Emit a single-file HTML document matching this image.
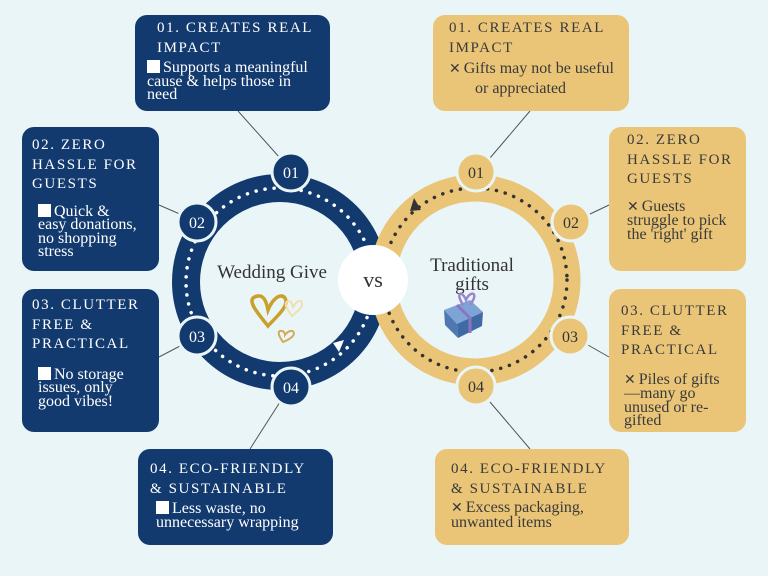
<!DOCTYPE html>
<html><head><meta charset="utf-8"><style>
body{margin:0;width:768px;height:576px;background:#eaf5f7;position:relative;overflow:hidden;font-family:"Liberation Serif",serif}
.b{position:absolute;border-radius:12px;box-sizing:border-box;white-space:nowrap}
.n{background:#123a6f;color:#fff}
.g{background:#eac577;color:#3a3a3a}
.t{font-size:15px;letter-spacing:1.6px;line-height:19.5px}
.d{font-size:16px;letter-spacing:0;line-height:13.5px;margin-top:2px}
.sq{display:inline-block;width:13px;height:13px;background:#fff;vertical-align:-1px;margin-right:3px}
.x{font-family:"DejaVu Sans",sans-serif;font-size:14px;margin-right:3px}
svg{position:absolute;left:0;top:0}
</style></head><body>
<svg width="768" height="576">
<g stroke="#555" stroke-width="1">
<line x1="238" y1="111" x2="280" y2="158"/>
<line x1="159" y1="205" x2="182" y2="215"/>
<line x1="159" y1="357" x2="182" y2="345"/>
<line x1="280" y1="402" x2="250" y2="449"/>
<line x1="530" y1="111" x2="490" y2="158"/>
<line x1="609" y1="205" x2="588" y2="215"/>
<line x1="609" y1="357" x2="588" y2="345"/>
<line x1="490" y1="402" x2="530" y2="449"/>
</g>
<circle cx="280" cy="282" r="94" fill="none" stroke="#123a6f" stroke-width="28"/>
<circle cx="280" cy="282" r="94" fill="none" stroke="#fff" stroke-width="3.5" stroke-dasharray="0.1 9" stroke-linecap="round"/>
<polygon points="333,343 344,340 339,352" fill="#fff"/>
<circle cx="475" cy="280" r="92" fill="none" stroke="#eac577" stroke-width="27"/>
<circle cx="475" cy="280" r="92" fill="none" stroke="#333" stroke-width="3.5" stroke-dasharray="0.1 9" stroke-linecap="round"/>
<polygon points="414,198 421,210 410,211" fill="#333"/>
<circle cx="373" cy="280" r="35" fill="#fff"/>
<g stroke="#eaf5f7" stroke-width="3">
<circle cx="291" cy="172" r="19" fill="#123a6f"/>
<circle cx="197" cy="222" r="19" fill="#123a6f"/>
<circle cx="197" cy="336" r="19" fill="#123a6f"/>
<circle cx="291" cy="387" r="19" fill="#123a6f"/>
<circle cx="476" cy="172" r="19" fill="#eac577"/>
<circle cx="571" cy="222" r="19" fill="#eac577"/>
<circle cx="570" cy="336" r="19" fill="#eac577"/>
<circle cx="476" cy="386" r="19" fill="#eac577"/>
</g>
<g font-family="Liberation Serif,serif" font-size="16" text-anchor="middle">
<g fill="#fff"><text x="291" y="178">01</text><text x="197" y="228">02</text><text x="197" y="342">03</text><text x="291" y="393">04</text></g>
<g fill="#333"><text x="476" y="178">01</text><text x="571" y="228">02</text><text x="570" y="342">03</text><text x="476" y="392">04</text></g>
<text x="373" y="287" font-size="22" fill="#333">vs</text>
<text x="272" y="278" font-size="19" fill="#333">Wedding Give</text>
<text x="472" y="271" font-size="19" fill="#333">Traditional</text>
<text x="472" y="290" font-size="19" fill="#333">gifts</text>
</g>
<g fill="none" stroke-linecap="round">
<path d="M268,326 C255,310 245,298 258,296 C265,295 267,305 268,310 C272,300 280,292 285,298 C290,306 275,318 268,326Z" stroke="#c9a02a" stroke-width="3.5"/>
<path d="M292,316 C286,308 283,302 289,301 C292,301 292,305 293,307 C296,302 301,298 302,303 C303,308 296,312 292,316Z" stroke="#f0dfb0" stroke-width="2"/>
<path d="M283,342 C278,335 277,330 282,331 C284,331 285,334 285,335 C288,331 293,329 294,333 C294,337 288,340 283,342Z" stroke="#d1ad5a" stroke-width="2"/>
</g>
<polygon points="444,310 470,300 483,312 457,324" fill="#7ea4d6"/>
<polygon points="444,310 457,324 458,338 445,325" fill="#4f78b0"/>
<polygon points="457,324 483,312 482,326 458,338" fill="#3f6aa3"/>
<line x1="457" y1="305" x2="470" y2="318" stroke="#8a76c0" stroke-width="3"/>
<line x1="470" y1="318" x2="470" y2="333" stroke="#8a76c0" stroke-width="3"/>
<path d="M463,305 C455,292 462,290 466,300 C470,290 480,292 470,305" fill="none" stroke="#9a86d0" stroke-width="2.5"/>
</svg>

<div class="b n" style="left:135px;top:15px;width:195px;height:96px;padding:4px 0 0 12px">
<div class="t" style="padding-left:10px">01. CREATES REAL<br>IMPACT</div>
<div class="d"><span class="sq"></span>Supports a meaningful<br>cause &amp; helps those in<br>need</div></div>
<div class="b n" style="left:22px;top:127px;width:137px;height:144px;padding:9px 0 0 10px">
<div class="t">02. ZERO<br>HASSLE FOR<br>GUESTS</div>
<div class="d" style="margin-top:9px;padding-left:6px"><span class="sq"></span>Quick &amp;<br>easy donations,<br>no shopping<br>stress</div></div>
<div class="b n" style="left:22px;top:289px;width:137px;height:143px;padding:7px 0 0 10px">
<div class="t">03. CLUTTER<br>FREE &amp;<br>PRACTICAL</div>
<div class="d" style="margin-top:12px;padding-left:6px"><span class="sq"></span>No storage<br>issues, only<br>good vibes!</div></div>
<div class="b n" style="left:138px;top:449px;width:195px;height:96px;padding:11px 0 0 12px">
<div class="t">04. ECO-FRIENDLY<br>&amp; SUSTAINABLE</div>
<div class="d" style="padding-left:6px"><span class="sq"></span>Less waste, no<br>unnecessary wrapping</div></div>

<div class="b g" style="left:433px;top:15px;width:196px;height:96px;padding:4px 0 0 16px">
<div class="t">01. CREATES REAL<br>IMPACT</div>
<div class="d" style="line-height:19px;margin-top:1px"><span class="x">✕</span>Gifts may not be useful<br><span style="padding-left:26px">or appreciated</span></div></div>
<div class="b g" style="left:609px;top:127px;width:137px;height:144px;padding:4px 0 0 18px">
<div class="t">02. ZERO<br>HASSLE FOR<br>GUESTS</div>
<div class="d" style="margin-top:10px"><span class="x">✕</span>Guests<br>struggle to pick<br>the 'right' gift</div></div>
<div class="b g" style="left:609px;top:289px;width:137px;height:143px;padding:13px 0 0 12px">
<div class="t">03. CLUTTER<br>FREE &amp;<br>PRACTICAL</div>
<div class="d" style="margin-top:12px;padding-left:3px"><span class="x">✕</span>Piles of gifts<br>—many go<br>unused or re-<br>gifted</div></div>
<div class="b g" style="left:435px;top:449px;width:194px;height:96px;padding:11px 0 0 16px">
<div class="t">04. ECO-FRIENDLY<br>&amp; SUSTAINABLE</div>
<div class="d"><span class="x">✕</span>Excess packaging,<br>unwanted items</div></div>
</body></html>
